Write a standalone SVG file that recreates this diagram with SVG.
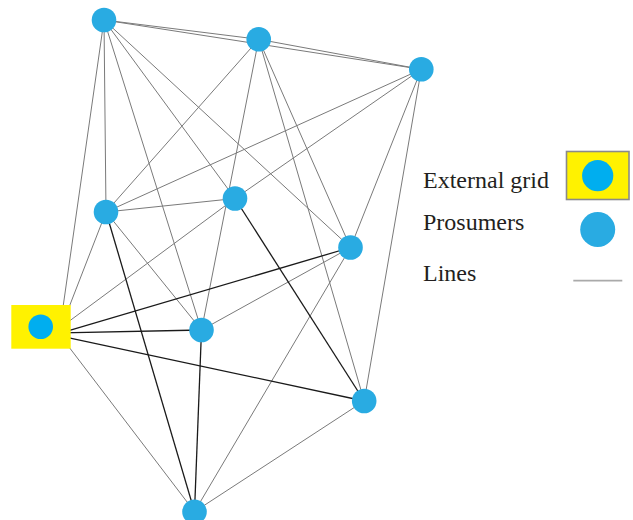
<svg xmlns="http://www.w3.org/2000/svg" width="633" height="520" viewBox="0 0 633 520">
  <style>
    .ln { stroke: #7a7a7a; stroke-width: 1; fill: none; }
    .lk { stroke: #1a1a1a; stroke-width: 1.3; fill: none; }
    .node { fill: #29abe2; }
    .grid-box { fill: #fff200; }
    .grid-dot { fill: #00aeef; }
    .label { font-family: "Liberation Serif", "Times New Roman", serif; font-size: 24px; fill: #231f20; }
  </style>
  <rect width="633" height="520" fill="#ffffff"/>

  <g id="connectors">
    <!-- thin grey lines -->
    <line class="ln" x1="104" y1="20" x2="258.7" y2="39.3"/>
    <line class="ln" x1="104" y1="20" x2="421.3" y2="69.3"/>
    <line class="ln" x1="258.7" y1="39.3" x2="421.3" y2="69.3"/>
    <line class="ln" x1="104" y1="20" x2="106" y2="212"/>
    <line class="ln" x1="104" y1="20" x2="61.9" y2="315"/>
    <line class="ln" x1="104" y1="20" x2="201.5" y2="330"/>
    <line class="ln" x1="104" y1="20" x2="235" y2="198.5"/>
    <line class="ln" x1="104" y1="20" x2="350.5" y2="247.5"/>
    <line class="ln" x1="258.7" y1="39.3" x2="106" y2="212"/>
    <line class="ln" x1="258.7" y1="39.3" x2="201.5" y2="330"/>
    <line class="ln" x1="258.7" y1="39.3" x2="350.5" y2="247.5"/>
    <line class="ln" x1="258.7" y1="39.3" x2="364.2" y2="401"/>
    <line class="ln" x1="421.3" y1="69.3" x2="106" y2="212"/>
    <line class="ln" x1="421.3" y1="69.3" x2="235" y2="198.5"/>
    <line class="ln" x1="421.3" y1="69.3" x2="350.5" y2="247.5"/>
    <line class="ln" x1="421.3" y1="69.3" x2="364.2" y2="401"/>
    <line class="ln" x1="106" y1="212" x2="235" y2="198.5"/>
    <line class="ln" x1="106" y1="212" x2="66" y2="315"/>
    <line class="ln" x1="106" y1="212" x2="201.5" y2="330"/>
    <line class="ln" x1="235" y1="198.5" x2="62" y2="326.5"/>
    <line class="ln" x1="350.5" y1="247.5" x2="201.5" y2="330"/>
    <line class="ln" x1="350.5" y1="247.5" x2="194.5" y2="511.7"/>
    <line class="ln" x1="364.2" y1="401" x2="194.5" y2="511.7"/>
    <line class="ln" x1="194.5" y1="511.7" x2="64" y2="340.5"/>
    <!-- dark lines -->
    <line class="lk" x1="106" y1="212" x2="194.5" y2="511.7"/>
    <line class="lk" x1="235" y1="198.5" x2="364.2" y2="401"/>
    <line class="lk" x1="62" y1="332.6" x2="350.5" y2="247.5"/>
    <line class="lk" x1="62" y1="332.9" x2="201.5" y2="330"/>
    <line class="lk" x1="62" y1="336.4" x2="364.2" y2="401"/>
    <line class="lk" x1="201.5" y1="330" x2="194.5" y2="511.7"/>
  </g>

  <g id="grid">
    <rect class="grid-box" x="11.3" y="305" width="59.4" height="43.7"/>
    <circle class="grid-dot" cx="40.7" cy="326.7" r="12.3"/>
  </g>
  <g id="nA"><circle class="node" cx="104" cy="20" r="12.3"/></g>
  <g id="nB"><circle class="node" cx="258.7" cy="39.3" r="12.3"/></g>
  <g id="nC"><circle class="node" cx="421.3" cy="69.3" r="12.3"/></g>
  <g id="nD"><circle class="node" cx="106" cy="212" r="12.3"/></g>
  <g id="nE"><circle class="node" cx="235" cy="198.5" r="12.3"/></g>
  <g id="nF"><circle class="node" cx="350.5" cy="247.5" r="12.3"/></g>
  <g id="nH"><circle class="node" cx="201.5" cy="330" r="12.3"/></g>
  <g id="nI"><circle class="node" cx="364.2" cy="401" r="12.3"/></g>
  <g id="nJ"><circle class="node" cx="194.5" cy="511.7" r="12.3"/></g>

  <g id="legend">
    <text class="label" x="423" y="188">External grid</text>
    <rect x="566.5" y="151.5" width="62.5" height="48" fill="#fff200" stroke="#8a8a8a" stroke-width="1.6"/>
    <circle class="grid-dot" cx="597.7" cy="175.7" r="15.6"/>
    <text class="label" x="423" y="230">Prosumers</text>
    <circle class="node" cx="597.7" cy="229.5" r="17.5"/>
    <text class="label" x="423" y="280.5">Lines</text>
    <line x1="573.3" y1="280.7" x2="622.3" y2="280.7" stroke="#aaaaaa" stroke-width="1.8"/>
  </g>
</svg>
